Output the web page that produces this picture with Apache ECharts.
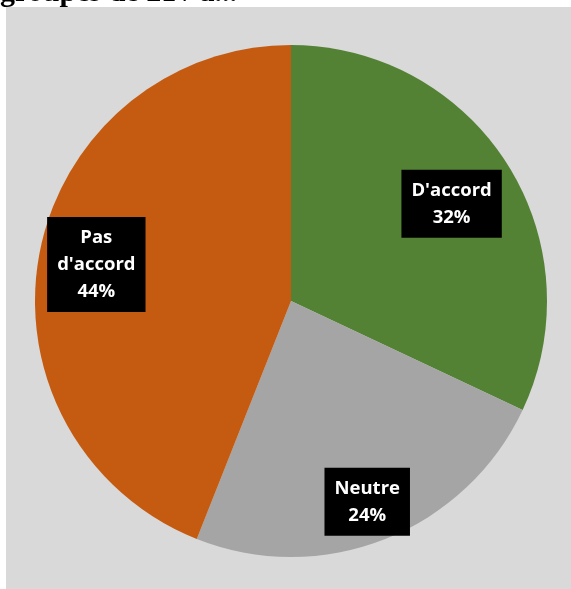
<!DOCTYPE html>
<html>
<head>
<meta charset="utf-8">
<script src="https://cdn.jsdelivr.net/npm/echarts@6/dist/echarts.min.js"></script>
<style>
html,body{margin:0;padding:0;background:#fff;}
#main{width:571px;height:589px;}
</style>
</head>
<body>
<div id="main"></div>
<script>
var categories = ["D'accord", "Neutre", "Pas\nd'accord"];
var values = [32, 24, 44];
var colors = ['#548235', '#A5A5A5', '#C55A11'];
var labelOffsets = [[50, -27], [28, 79], [-66, -12]];

var chart = echarts.init(document.getElementById('main'), null, {renderer: 'canvas'});
var data = categories.map(function (c, i) {
  return {
    name: c,
    value: values[i],
    itemStyle: {color: colors[i]},
    label: {offset: labelOffsets[i]}
  };
});
chart.setOption({
  backgroundColor: '#ffffff',
  animation: false,
  graphic: [
    {type: 'rect', left: 6, top: 7, shape: {width: 565, height: 582}, style: {fill: '#D9D9D9'}, z: -10},
    {type: 'text', x: 0, y: -7, style: {text: 'groupes de 21 / a...', font: 'bold 30px "Liberation Serif"', fill: '#000', verticalAlign: 'middle', align: 'left'}, z: -20}
  ],
  series: [{
    type: 'pie',
    center: [291, 301],
    radius: [0, 256],
    startAngle: 90,
    clockwise: true,
    data: data,
    itemStyle: {borderWidth: 0},
    emphasis: {disabled: true},
    label: {
      show: true,
      position: 'inside',
      formatter: function (p) { return p.name + '\n' + Math.round(p.percent) + '%'; },
      color: '#fff',
      fontFamily: 'Open Sans',
      fontWeight: 'bold',
      fontSize: 18.5,
      lineHeight: 27,
      backgroundColor: '#000',
      padding: [7, 10],
      align: 'center'
    },
    labelLine: {show: false}
  }]
});
</script>
</body>
</html>
